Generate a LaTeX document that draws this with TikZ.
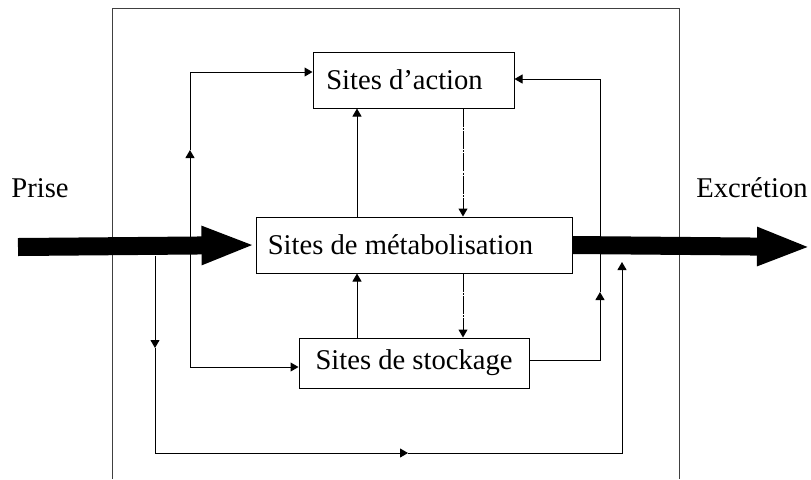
\documentclass[tikz,border=0pt]{standalone}
\usepackage{fontspec}
\setmainfont{Liberation Serif}
\usetikzlibrary{arrows.meta,calc}
\tikzset{
  site/.style={draw, line width=0.5pt, inner sep=0pt, minimum height=28pt},
  textshift/.style={execute at end node={\kern#1}},
  conn/.style={-{Triangle[length=4pt,width=4.5pt]}, line width=0.5pt},
  dashdot/.style={dash pattern=on 9pt off 0.6pt on 1pt off 0.6pt},
  bigarrow/.style={line width=9pt, -{Triangle[length=27pt,width=17.5pt]}}
}
\begin{document}
\begin{tikzpicture}[x=0.5pt,y=-0.5pt,font=\fontsize{14.3}{17}\selectfont]
				\useasboundingbox (0,0) rectangle (811,479);
				% Frame
				\draw[black!75, line width=0.5pt] (112,479) -- (112,8) -- (679,8) -- (679,479);
				% Sites
				\node[site, textshift=9pt, minimum width=100.5pt] (act) at (413.5,80) {Sites d’action};
				\node[site, textshift=13.5pt, minimum width=158pt] (met) at (414,245) {Sites de métabolisation};
				\node[site, minimum width=115pt, minimum height=25pt] (sto) at (414,363) {Sites de stockage};
				% Labels
				\node (prise) at (40,188) {Prise};
				\node (excr) at (752,188) {Excrétion};
				% Intake and excretion
				\coordinate (in) at (18,247);
				\coordinate (out) at (811,247);
				\draw[bigarrow] (in) -- (met.west);
				\draw[bigarrow] (met.east) -- (out);
				% Between the sites
				\coordinate (lx) at (357,0);
				\coordinate (rx) at (463,0);
				\draw[conn] (lx |- met.north) -- (lx |- act.south);
				\draw[conn] (lx |- sto.north) -- (lx |- met.south);
				\draw[conn, dashdot] (rx |- act.south) -- (rx |- met.north);
				\draw[conn, dashdot] (rx |- met.south) -- (rx |- sto.north);
				% Left branch
				\coordinate (l0) at (190,367);
				\coordinate (l1) at (190,150);
				\draw[conn] (l0) -- (l1);
				\draw[conn] (l1) |- ($(act.west)+(0,-8)$);
				\draw[conn] (l0) -- ($(sto.west)+(0,4)$);
				% Bottom loop
				\coordinate (b0) at (155,256);
				\coordinate (b1) at (155,348);
				\coordinate (b2) at (155,453);
				\coordinate (b3) at (408,453);
				\coordinate (b4) at (622,453);
				\coordinate (b5) at (622,262);
				\draw[conn] (b0) -- (b1);
				\draw[conn] (b1) -- (b2) -- (b3);
				\draw[conn] (b3) -- (b4) -- (b5);
				% Right branch
				\coordinate (r0) at (600,360);
				\coordinate (r1) at (600,292);
				\draw[conn] ($(sto.east)+(0,-3)$) -- (r0) -- (r1);
				\draw[conn] (r1) |- ($(act.east)+(0,-1)$);
\end{tikzpicture}
\end{document}
